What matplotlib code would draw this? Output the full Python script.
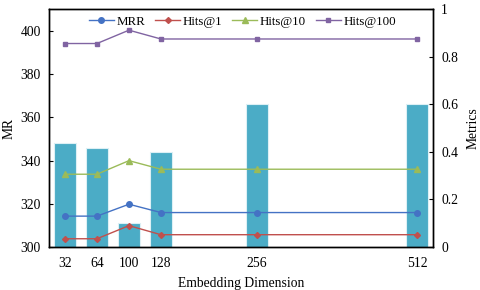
import matplotlib
matplotlib.use("Agg")
import matplotlib.pyplot as plt

plt.rcParams['font.family'] = ['Liberation Serif', 'DejaVu Serif']

dims = ["32", "64", "100", "128", "256", "512"]
pos = [1, 2, 3, 4, 7, 12]
mr = [348, 346, 311, 344, 366, 366]
mrr = [0.13, 0.13, 0.18, 0.145, 0.145, 0.145]
hits1 = [0.035, 0.035, 0.09, 0.052, 0.052, 0.052]
hits10 = [0.306, 0.306, 0.363, 0.327, 0.327, 0.327]
hits100 = [0.855, 0.855, 0.911, 0.874, 0.874, 0.874]

fs = 9.8
fig = plt.figure(figsize=(4.8, 2.9), dpi=100)
ax = fig.add_axes([0.102, 0.148, 0.800, 0.821])
ax.bar(pos, mr, width=0.68, color='#4BACC6', edgecolor='#DDF0F5', linewidth=0.8, zorder=1)
ax.set_ylim(300, 410)
ax.set_xlim(0.5, 12.5)
ax.set_yticks([300, 320, 340, 360, 380, 400])
ax.set_xticks(pos)
ax.set_xticklabels(dims)
ax.tick_params(axis='x', length=0, labelsize=fs, pad=7)
ax.tick_params(axis='y', direction='in', length=3, labelsize=fs, pad=6)
ax.set_ylabel("MR", fontsize=fs, labelpad=3)
ax.set_xlabel("Embedding Dimension", fontsize=fs, labelpad=5)

ax2 = ax.twinx()
ax2.set_ylim(0, 1)
ax2.set_yticks([0, 0.2, 0.4, 0.6, 0.8, 1])
ax2.set_yticklabels(["0", "0.2", "0.4", "0.6", "0.8", "1"])
ax2.tick_params(axis='y', direction='in', length=3, labelsize=fs, pad=6)
ax2.set_ylabel("Metrics", fontsize=fs, labelpad=6)
l1, = ax2.plot(pos, mrr, color='#4472C4', marker='o', markersize=4, linewidth=1, label='MRR')
l2, = ax2.plot(pos, hits1, color='#C0504D', marker='D', markersize=3, linewidth=1, label='Hits@1')
l3, = ax2.plot(pos, hits10, color='#9BBB59', marker='^', markersize=4, linewidth=1, label='Hits@10')
l4, = ax2.plot(pos, hits100, color='#8064A2', marker='s', markersize=3.5, linewidth=1, label='Hits@100')
ax2.legend(handles=[l1, l2, l3, l4], loc='upper center', ncol=4, frameon=False,
           fontsize=9.3, bbox_to_anchor=(0.504, 1.02), handlelength=1.95,
           columnspacing=0.75, handletextpad=0.2)

for a in (ax, ax2):
    for s in a.spines.values():
        s.set_linewidth(1)

fig.savefig("out.png", dpi=100)
